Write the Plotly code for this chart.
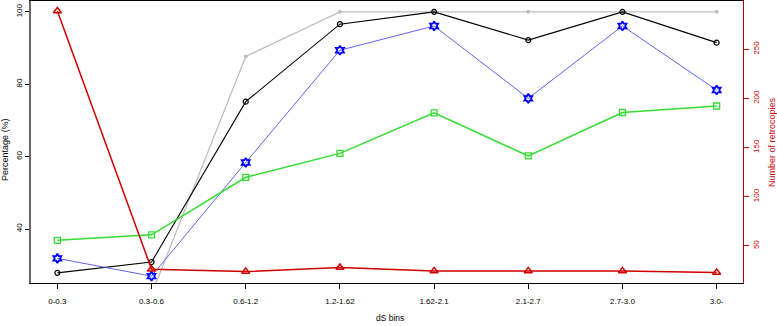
import plotly.graph_objects as go

bins = ["0-0.3", "0.3-0.6", "0.6-1.2", "1.2-1.62", "1.62-2.1", "2.1-2.7", "2.7-3.0", "3.0-"]
gray_pct = [20, 22, 87.7, 100, 100, 100, 100, 100]
black_pct = [27.9, 30.9, 75.2, 96.6, 100, 92.2, 100, 91.5]
blue_pct = [31.9, 27.0, 58.4, 89.4, 96.1, 76.1, 96.1, 78.4]
green_pct = [36.9, 38.4, 54.3, 60.9, 72.1, 60.2, 72.2, 74.0]
retro_count = [288.9, 26.2, 23.8, 27.9, 24.5, 24.5, 24.5, 22.8]

left_ticks = [40, 60, 80, 100]
right_ticks = [50, 100, 150, 200, 250]

FONT = "Liberation Sans, Arial, sans-serif"
RED = "#D00000"

fig = go.Figure()

fig.add_trace(go.Scatter(x=bins, y=gray_pct, mode="lines+markers",
                         line=dict(color="#BEBEBE", width=1.3),
                         marker=dict(symbol="circle", size=4, color="#BEBEBE"),
                         cliponaxis=True))
fig.add_trace(go.Scatter(x=bins, y=black_pct, mode="lines+markers",
                         line=dict(color="black", width=1.1),
                         marker=dict(symbol="circle-open", size=5, color="black",
                                     line=dict(width=1.2)),
                         cliponaxis=True))
fig.add_trace(go.Scatter(x=bins, y=blue_pct, mode="lines+markers",
                         line=dict(color="#5050E8", width=0.9),
                         marker=dict(symbol="hexagram-open", size=7, color="#0000FF",
                                     line=dict(width=1.8)),
                         cliponaxis=True))
fig.add_trace(go.Scatter(x=bins, y=green_pct, mode="lines+markers",
                         line=dict(color="#33DD33", width=1.5),
                         marker=dict(symbol="square-open", size=6, color="#33DD33",
                                     line=dict(width=1.3)),
                         cliponaxis=True))
fig.add_trace(go.Scatter(x=bins, y=retro_count, yaxis="y2", mode="lines+markers",
                         line=dict(color=RED, width=1.5),
                         marker=dict(symbol="triangle-up-open", size=7, color=RED,
                                     line=dict(width=1.5)),
                         cliponaxis=True))

fig.update_layout(
    width=777, height=326,
    margin=dict(l=31, r=34, t=1, b=43),
    paper_bgcolor="white", plot_bgcolor="white",
    showlegend=False,
    font=dict(family=FONT, size=8, color="black"),
    xaxis=dict(
        type="category", range=[-0.28, 7.28], automargin=False,
        showgrid=False, zeroline=False,
        showline=True, linecolor="black", linewidth=1, mirror=True,
        ticks="outside", ticklen=5, tickcolor="black",
        tickfont=dict(size=8, family=FONT), ticklabelstandoff=5,
    ),
    yaxis=dict(
        range=[25.1, 103.0], tickvals=left_ticks, automargin=False,
        showgrid=False, zeroline=False,
        showline=True, linecolor="#666666", linewidth=1.5,
        ticks="outside", ticklen=4, tickcolor="black",
        tickangle=-90, tickfont=dict(size=8, family=FONT),
    ),
    yaxis2=dict(
        range=[12.2, 299], tickvals=right_ticks, overlaying="y", side="right",
        automargin=False,
        showgrid=False, zeroline=False,
        showline=True, linecolor="#B00000", linewidth=1.2,
        ticks="outside", ticklen=5, tickcolor=RED,
        tickangle=-90, tickfont=dict(size=8, family=FONT, color=RED),
    ),
    annotations=[
        dict(text="dS bins", xref="paper", yref="paper", x=0.504, y=-0.124,
             showarrow=False, font=dict(size=8.5, family=FONT, color="black"),
             xanchor="center", yanchor="middle"),
        dict(text="Percentage (%)", xref="paper", yref="paper", x=-0.0365, y=0.472,
             showarrow=False, textangle=-90, font=dict(size=9, family=FONT, color="black"),
             xanchor="center", yanchor="middle"),
        dict(text="Number of retrocopies", xref="paper", yref="paper", x=1.0407, y=0.5,
             showarrow=False, textangle=-90, font=dict(size=9, family=FONT, color=RED),
             xanchor="center", yanchor="middle"),
    ],
)

fig.write_html(
    "out.html",
    config={"displayModeBar": False},
    post_script="document.body.style.margin='0';document.body.style.overflow='hidden';",
)
